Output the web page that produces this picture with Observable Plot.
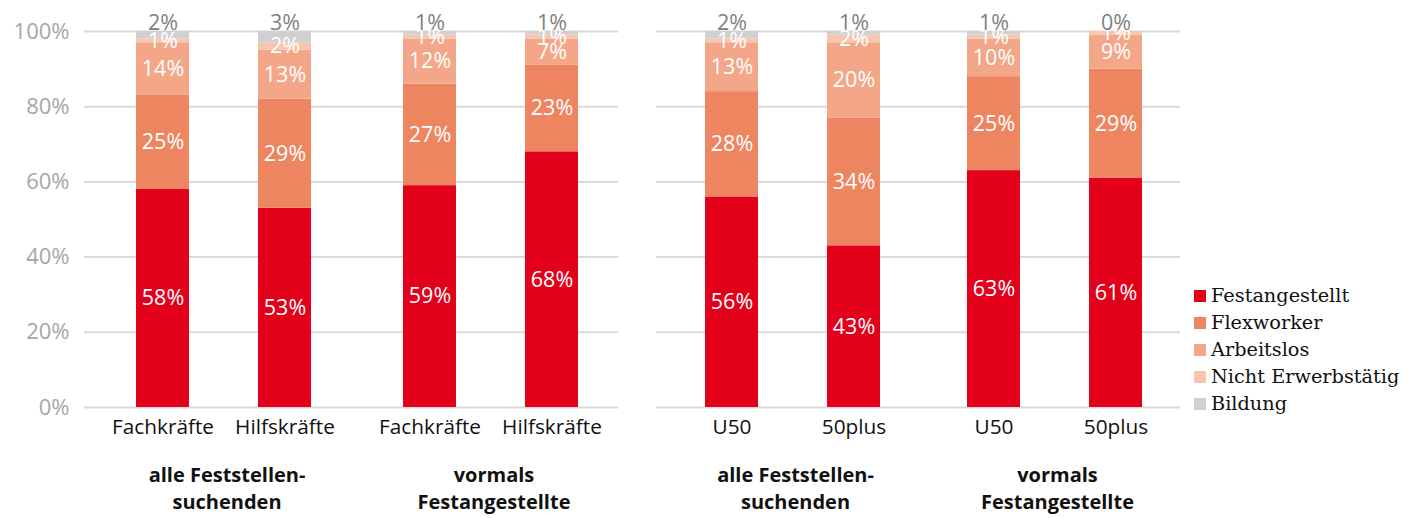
<!DOCTYPE html>
<html><head><meta charset="utf-8">
<script src="https://cdn.jsdelivr.net/npm/d3@7"></script>
<script src="https://cdn.jsdelivr.net/npm/@observablehq/plot@0.6"></script>
<style>
body{margin:0;background:#fff;}
#wrap{position:relative;width:1420px;height:518px;font-family:"Open Sans",sans-serif;}
#left{position:absolute;left:0;top:0;}
#right{position:absolute;left:640px;top:0;}
#legend{position:absolute;left:1194px;top:282px;font-family:"DejaVu Serif",serif;font-size:19.3px;color:#111;}
.item{display:flex;align-items:center;height:27px;white-space:nowrap;}
.sw{width:12px;height:12px;margin-right:5px;flex:none;}
</style></head><body>
<div id="wrap"><div id="left"></div><div id="right"></div><div id="legend"></div></div>
<script>
const series = ["Festangestellt", "Flexworker", "Arbeitslos", "Nicht Erwerbstätig", "Bildung"];
const colors = ["#e2001a", "#ee8561", "#f3a688", "#f8c5ae", "#d0d0d0"];
const groups = ["alle Feststellen-\nsuchenden", "vormals\nFestangestellte"];
const qualCategories = ["Fachkräfte", "Hilfskräfte"];
const ageCategories = ["U50", "50plus"];
const yTicks = [0, 20, 40, 60, 80, 100];

// order of values: [alle cat1, alle cat2, vormals cat1, vormals cat2]
const qualFest = [58, 53, 59, 68];
const qualFlex = [25, 29, 27, 23];
const qualArbeitslos = [14, 13, 12, 7];
const qualNichtErw = [1, 2, 1, 1];
const qualBildung = [2, 3, 1, 1];

const ageFest = [56, 43, 63, 61];
const ageFlex = [28, 34, 25, 29];
const ageArbeitslos = [13, 20, 10, 9];
const ageNichtErw = [1, 2, 1, 1];
const ageBildung = [2, 1, 1, 0];

function buildRows(cats, arrays) {
  const rows = [];
  groups.forEach((g, gi) => cats.forEach((c, ci) => series.forEach((s, si) => {
    rows.push({group: g, cat: c, series: s, value: arrays[si][gi * 2 + ci]});
  })));
  return rows;
}

function panel(cats, arrays, o) {
  const rows = buildRows(cats, arrays);
  return Plot.plot({
    width: o.width, height: 518,
    marginTop: 31, marginBottom: 111, marginLeft: o.ml, marginRight: o.mr,
    style: {fontFamily: "'Open Sans', sans-serif", fontSize: "20px", background: "transparent", overflow: "visible"},
    fx: {domain: groups, paddingInner: 0, paddingOuter: 0, axis: null},
    x: {domain: cats, paddingInner: 0.5691, paddingOuter: o.po, align: o.align, axis: null},
    y: {domain: [0, 100], axis: null},
    color: {domain: series, range: colors},
    marks: [
      Plot.gridY(yTicks, {stroke: "#d9d9d9", strokeOpacity: 1, strokeWidth: 2}),
      o.yAxis ? Plot.axisY(yTicks, {tickSize: 0, tickPadding: 15, tickFormat: d => d + "%", fill: "#a6a6a6", label: null, fontSize: 22}) : null,
      Plot.axisX({tickSize: 0, tickPadding: 12, label: null, fill: "#111", fontSize: 20.8}),
      Plot.barY(rows, {fx: "group", x: "cat", y: "value", fill: "series"}),
      Plot.text(rows.filter(d => d.series !== "Bildung"), Plot.stackY({fx: "group", x: "cat", y: "value", z: "series", text: d => d.value + "%", fill: "white", fontSize: 21.5})),
      Plot.text(rows.filter(d => d.series === "Bildung"), {fx: "group", x: "cat", y: () => 100, text: d => d.value + "%", fill: "#7f7f7f", fontSize: 21.5, dy: -8}),
      Plot.text(groups, {fx: d => d, text: d => d, frameAnchor: "bottom", lineAnchor: "top", dy: 56, dx: o.gdx, fontWeight: "bold", fontSize: 20, lineHeight: 1.32, fill: "#111"})
    ]
  });
}

document.getElementById("left").append(panel(qualCategories, [qualFest, qualFlex, qualArbeitslos, qualNichtErw, qualBildung],
  {width: 640, ml: 83, mr: 22, po: 0.372, align: 0.566, yAxis: true, gdx: 9}));
document.getElementById("right").append(panel(ageCategories, [ageFest, ageFlex, ageArbeitslos, ageNichtErw, ageBildung],
  {width: 560, ml: 15, mr: 20, po: 0.3516, align: 0.558, yAxis: false, gdx: 8}));

const legend = document.getElementById("legend");
series.forEach((s, i) => {
  const item = document.createElement("div");
  item.className = "item";
  const sw = document.createElement("span");
  sw.className = "sw";
  sw.style.background = colors[i];
  const t = document.createElement("span");
  t.textContent = s;
  item.append(sw, t);
  legend.append(item);
});
</script>
</body></html>
